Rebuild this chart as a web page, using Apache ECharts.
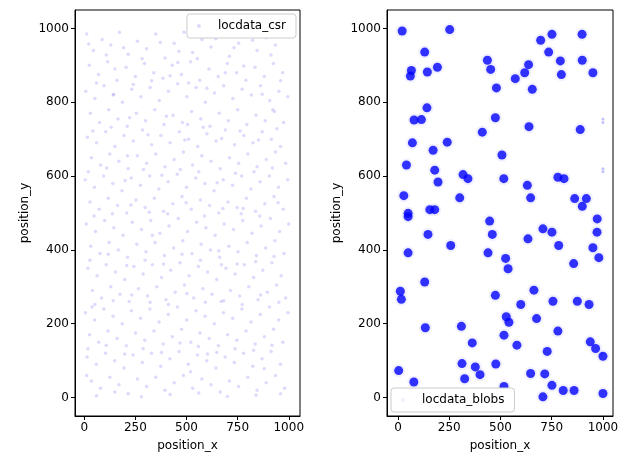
<!DOCTYPE html>
<html>
<head>
<meta charset="utf-8">
<script src="https://cdn.jsdelivr.net/npm/echarts@6/dist/echarts.min.js"></script>
<style>html,body{margin:0;padding:0;background:#fff}#c{width:629px;height:470px}</style>
</head>
<body>
<div id="c"></div>
<script>
// uniformly scattered localizations (read approximately, subset)
const csrPoints = [
[12,985],[45,940],[88,970],[130,955],[172,990],[215,930],[260,965],[305,945],[350,985],[395,920],[440,960],[488,990],[530,935],[575,970],[620,950],[668,985],[710,925],[755,960],[800,990],[845,940],[890,975],[935,955],[980,990],
[25,900],[70,875],[115,910],[160,860],[205,895],[250,870],[295,905],[340,880],[385,865],[430,900],[475,875],[520,910],[565,860],[610,890],[655,870],[700,905],[745,880],[790,860],[835,895],[880,870],[925,905],[970,880],
[8,830],[52,810],[97,845],[142,820],[187,800],[232,835],[277,815],[322,840],[367,805],[412,830],[457,850],[502,815],[547,840],[592,800],[637,825],[682,845],[727,810],[772,835],[817,820],[862,845],[907,805],[952,830],[995,815],
[30,770],[75,745],[120,780],[165,755],[210,735],[255,770],[300,750],[345,780],[390,740],[435,765],[480,745],[525,775],[570,755],[615,735],[660,770],[705,750],[750,780],[795,740],[840,765],[885,750],[930,775],[975,745],
[15,705],[60,690],[105,720],[150,680],[195,710],[240,695],[285,725],[330,685],[375,710],[420,690],[465,720],[510,700],[555,680],[600,715],[645,695],[690,725],[735,685],[780,710],[825,690],[870,720],[915,700],[960,680],
[35,650],[80,630],[125,660],[170,640],[215,620],[260,655],[305,635],[350,660],[395,625],[440,645],[485,665],[530,630],[575,655],[620,640],[665,620],[710,650],[755,635],[800,660],[845,625],[890,645],[935,665],[985,635],
[5,590],[50,570],[95,600],[140,580],[185,560],[230,595],[275,575],[320,600],[365,565],[410,585],[455,605],[500,570],[545,595],[590,580],[635,560],[680,590],[725,575],[770,600],[815,565],[860,585],[905,600],[950,570],[995,590],
[28,530],[73,510],[118,540],[163,520],[208,500],[253,535],[298,515],[343,540],[388,505],[433,525],[478,545],[523,510],[568,535],[613,520],[658,500],[703,530],[748,515],[793,540],[838,505],[883,525],[928,545],[973,510],
[10,470],[55,450],[100,480],[145,460],[190,440],[235,475],[280,455],[325,480],[370,445],[415,465],[460,485],[505,450],[550,475],[595,460],[640,440],[685,470],[730,455],[775,480],[820,445],[865,465],[910,485],[955,450],[1000,470],
[32,410],[77,390],[122,420],[167,400],[212,380],[257,415],[302,395],[347,420],[392,385],[437,405],[482,425],[527,390],[572,415],[617,400],[662,380],[707,410],[752,395],[797,420],[842,385],[887,405],[932,425],[977,390],
[18,350],[63,330],[108,360],[153,340],[198,320],[243,355],[288,335],[333,360],[378,325],[423,345],[468,365],[513,330],[558,355],[603,340],[648,320],[693,350],[738,335],[783,360],[828,325],[873,345],[918,365],[963,330],
[40,290],[85,270],[130,300],[175,280],[220,260],[265,295],[310,275],[355,300],[400,265],[445,285],[490,305],[535,270],[580,295],[625,280],[670,260],[715,290],[760,275],[805,300],[850,265],[895,285],[940,305],[985,270],
[6,230],[51,210],[96,240],[141,220],[186,200],[231,235],[276,215],[321,240],[366,205],[411,225],[456,245],[501,210],[546,235],[591,220],[636,200],[681,230],[726,215],[771,240],[816,205],[861,225],[906,245],[951,210],[996,230],
[26,170],[71,150],[116,180],[161,160],[206,140],[251,175],[296,155],[341,180],[386,145],[431,165],[476,185],[521,150],[566,175],[611,160],[656,140],[701,170],[746,155],[791,180],[836,145],[881,165],[926,185],[971,150],
[14,110],[59,90],[104,120],[149,100],[194,80],[239,115],[284,95],[329,120],[374,85],[419,105],[464,125],[509,90],[554,115],[599,100],[644,80],[689,110],[734,95],[779,120],[824,85],[869,105],[914,125],[959,90],
[35,45],[80,25],[125,55],[170,35],[215,10],[260,50],[305,30],[350,55],[395,20],[440,40],[485,60],[530,25],[575,50],[620,35],[665,15],[710,45],[755,30],[800,55],[845,20],[890,40],[935,60],[980,25],
[60,5],[150,15],[280,2],[420,8],[560,12],[700,3],[840,6],[960,10],[38,245],[212,655],[458,908],[603,118],[777,512],[922,780],[333,440],[144,822],[671,360],[505,740],
[22,958],[108,928],[193,948],[283,918],[372,962],[463,938],[553,918],[643,972],[733,948],[823,968],[913,928],[60,852],[150,890],[240,848],[330,858],[420,872],[510,852],[600,838],[690,880],[780,898],[870,822],[960,858],
[42,722],[132,732],[222,758],[312,712],[402,762],[492,698],[582,732],[672,702],[762,722],[852,698],[942,728],[20,612],[110,622],[200,588],[290,618],[380,602],[470,618],[560,612],[650,582],[740,608],[830,612],[920,622],
[48,492],[138,498],[228,522],[318,502],[408,498],[498,528],[588,492],[678,512],[768,498],[858,492],[948,528],[28,372],[118,388],[208,358],[298,372],[388,362],[478,388],[568,372],[658,398],[748,362],[838,368],[928,382],
[52,252],[142,262],[232,278],[322,258],[412,252],[502,282],[592,258],[682,262],[772,252],[862,278],[952,258],[18,132],[108,142],[198,118],[288,132],[378,122],[468,148],[558,138],[648,122],[738,132],[828,128],[918,142],[12,60],[880,78],[520,70]
];
// cluster centres of the blob dataset
const blobCenters = [
[20,993],[252,997],[130,936],[696,968],[751,984],[898,984],[735,936],[436,914],[452,889],[792,912],[899,914],
[65,886],[60,871],[143,882],[192,895],[637,902],[618,880],[572,864],[797,875],[951,880],[480,839],[655,835],
[141,785],[78,752],[114,753],[475,758],[411,719],[639,734],[889,726],[70,690],[171,670],[240,692],[507,657],
[41,630],[179,616],[195,584],[317,604],[341,593],[516,593],[631,575],[780,597],[810,593],[28,547],[301,541],
[647,541],[862,539],[919,539],[899,518],[155,509],[179,509],[49,499],[49,490],[447,478],[972,484],[146,442],
[460,442],[707,457],[751,448],[971,448],[257,412],[634,430],[784,412],[951,406],[49,392],[439,392],[525,377],
[537,349],[857,363],[980,379],[130,313],[11,288],[16,266],[475,277],[663,291],[599,252],[756,261],[875,261],
[932,252],[528,219],[541,204],[676,214],[133,189],[309,193],[780,180],[517,169],[362,148],[580,142],[728,125],
[938,151],[964,133],[312,92],[377,83],[400,62],[477,91],[3,73],[325,51],[647,65],[716,64],[751,33],[806,19],
[859,19],[77,42],[707,2],[1000,112],[1000,11],[517,30]
];
const blobStray = [[1000,755],[1000,745],[1000,620],[1000,612],[994,118]];

const xTicks = [0, 250, 500, 750, 1000];
const yTicks = [0, 200, 400, 600, 800, 1000];

const font = 'DejaVu Sans';
function xAxis(grid, min, max) {
  return {
    gridIndex: grid, type: 'value', min: min, max: max,
    name: 'position_x', nameLocation: 'middle', nameGap: 24,
    nameTextStyle: { color: '#000', fontSize: 12, fontFamily: font },
    axisLine: { onZero: false, lineStyle: { color: '#000' } },
    axisTick: { length: 4, lineStyle: { color: '#000' }, customValues: xTicks },
    axisLabel: { color: '#000', fontSize: 12, fontFamily: font, customValues: xTicks, margin: 6, formatter: v => String(v) },
    splitLine: { show: false }
  };
}
function yAxis(grid) {
  return {
    gridIndex: grid, type: 'value', min: -50, max: 1050,
    name: 'position_y', nameLocation: 'middle', nameGap: 44, nameRotate: 90,
    nameTextStyle: { color: '#000', fontSize: 12, fontFamily: font },
    axisLine: { show: true, onZero: false, lineStyle: { color: '#000' } },
    axisTick: { show: true, length: 4, lineStyle: { color: '#000' }, customValues: yTicks },
    axisLabel: { color: '#000', fontSize: 12, fontFamily: font, customValues: yTicks, margin: 6, formatter: v => String(v) },
    splitLine: { show: false }
  };
}
const legendCommon = {
  orient: 'vertical', backgroundColor: '#fff', borderColor: '#ccc', borderWidth: 1, borderRadius: 3,
  padding: [6, 10], itemWidth: 28, itemHeight: 4, itemGap: 0,
  textStyle: { fontSize: 12, fontFamily: font, color: '#000' }
};

const chart = echarts.init(document.getElementById('c'), null, { renderer: 'canvas' });
chart.setOption({
  animation: false,
  grid: [
    { left: 75, right: 329, top: 10, bottom: 54, show: true, borderColor: '#000', borderWidth: 1 },
    { left: 387, right: 16, top: 10, bottom: 54, show: true, borderColor: '#000', borderWidth: 1 }
  ],
  xAxis: [xAxis(0, -45, 1055), xAxis(1, -54, 1049)],
  yAxis: [yAxis(0), yAxis(1)],
  legend: [
    Object.assign({ data: ['locdata_csr'], right: 333, top: 14 }, legendCommon),
    Object.assign({ data: ['locdata_blobs'], left: 391, bottom: 58 }, legendCommon)
  ],
  series: [
    { name: 'locdata_csr', type: 'scatter', xAxisIndex: 0, yAxisIndex: 0, data: csrPoints,
      symbolSize: 3.5, itemStyle: { color: 'rgba(123,104,238,0.3)' } },
    { name: 'locdata_blobs', type: 'scatter', xAxisIndex: 1, yAxisIndex: 1, data: blobCenters,
      symbolSize: 13, itemStyle: { color: 'rgba(0,0,255,0.08)' } },
    { name: 'locdata_blobs', type: 'scatter', xAxisIndex: 1, yAxisIndex: 1, data: blobCenters,
      symbolSize: 9, itemStyle: { color: '#0000ff' } },
    { name: 'locdata_blobs', type: 'scatter', xAxisIndex: 1, yAxisIndex: 1, data: blobStray,
      symbolSize: 3, itemStyle: { color: 'rgba(0,0,255,0.3)' } }
  ]
});
</script>
</body>
</html>
